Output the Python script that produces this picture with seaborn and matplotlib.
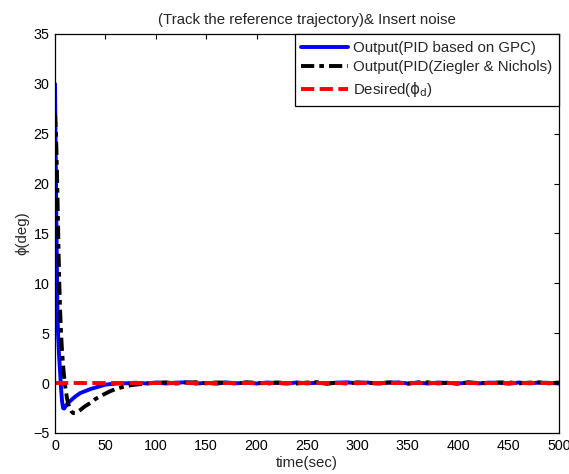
import matplotlib
matplotlib.use("Agg")
import matplotlib.pyplot as plt
import seaborn as sns
import pandas as pd

# ---------------- data ----------------
t_gpc = [0, 0.5, 1, 1.5, 2, 2.5, 3, 4, 5, 6, 7, 8, 9, 10, 12, 15, 20, 25, 30, 35,
         40, 45, 50, 55, 60, 70, 80, 90, 100, 110, 120, 130, 140, 150, 160, 170,
         180, 190, 200, 210, 220, 230, 240, 250, 260, 270, 280, 290, 300, 310,
         320, 330, 340, 350, 360, 370, 380, 390, 400, 410, 420, 430, 440, 450,
         460, 470, 480, 490, 500]
y_gpc = [30, 25, 20, 15, 10.5, 7, 5, 2.8, 1.2, -0.5, -1.8, -2.5, -2.55, -2.4, -2.1,
         -1.8, -1.35, -1.0, -0.8, -0.6, -0.45, -0.3, -0.15, -0.1, -0.05, -0.02,
         0.04, -0.03, 0.06, -0.04, 0.05, 0.08, -0.05, 0.03, -0.06, 0.07, -0.02,
         0.05, -0.04, 0.06, 0.02, -0.05, 0.07, -0.03, 0.04, -0.06, 0.05, 0.08,
         -0.02, 0.06, -0.05, 0.04, 0.07, -0.03, 0.05, -0.04, 0.06, 0.02, -0.05,
         0.07, -0.03, 0.05, 0.04, -0.06, 0.06, -0.02, 0.05, 0.03, -0.04]

t_zn = [0, 1, 2, 3, 4, 5, 6, 7, 8, 9, 10, 12, 14, 16, 18, 20, 22, 25, 30, 35, 40,
        45, 50, 55, 60, 65, 70, 75, 80, 85, 90, 100, 110, 120, 130, 140, 150, 160,
        170, 180, 190, 200, 210, 220, 230, 240, 250, 260, 270, 280, 290, 300, 310,
        320, 330, 340, 350, 360, 370, 380, 390, 400, 410, 420, 430, 440, 450, 460,
        470, 480, 490, 500]
y_zn = [27, 25, 21, 16, 11, 7.5, 5, 3.2, 1.8, 0.7, -0.2, -1.6, -2.4, -2.8, -3.0,
        -3.0, -2.9, -2.7, -2.3, -2.0, -1.6, -1.3, -1.05, -0.8, -0.6, -0.45, -0.32,
        -0.22, -0.15, -0.1, -0.05, 0.03, 0.08, -0.04, 0.06, 0.09, -0.03, 0.07,
        0.05, -0.05, 0.08, 0.04, -0.06, 0.07, 0.02, -0.04, 0.06, 0.09, -0.03,
        0.05, -0.05, 0.08, 0.03, -0.04, 0.07, 0.05, -0.06, 0.06, 0.08, -0.03,
        0.04, -0.05, 0.07, 0.02, -0.04, 0.06, 0.08, -0.03, 0.05, 0.07, -0.02, 0.06]

t_des = [0, 500]
y_des = [0, 0]

labels = ["Output(PID based on GPC)", "Output(PID(Ziegler & Nichols)",
          r"Desired($\mathrm{\phi}_\mathrm{d}$)"]
title = "(Track the reference trajectory)& Insert noise"
xlabel = "time(sec)"
ylabel = "\u03d5(deg)"
xticks = [0, 50, 100, 150, 200, 250, 300, 350, 400, 450, 500]
yticks = [-5, 0, 5, 10, 15, 20, 25, 30, 35]

# ---------------- style ----------------
sns.set_style("white")
plt.rcParams["font.family"] = ["Liberation Sans", "DejaVu Sans"]
plt.rcParams["mathtext.fontset"] = "custom"
plt.rcParams["mathtext.rm"] = "DejaVu Sans"
plt.rcParams["font.size"] = 10

fig = plt.figure(figsize=(5.69, 4.74), dpi=100)
ax = fig.add_axes([55 / 569, 1 - 433 / 474, 504 / 569, 399 / 474])

df_gpc = pd.DataFrame({"t": t_gpc, "y": y_gpc})
df_zn = pd.DataFrame({"t": t_zn, "y": y_zn})
df_des = pd.DataFrame({"t": t_des, "y": y_des})

lw = 2.8
sns.lineplot(data=df_gpc, x="t", y="y", ax=ax, color="#0000ff", linewidth=lw,
             label=labels[0], linestyle="-")
sns.lineplot(data=df_zn, x="t", y="y", ax=ax, color="black", linewidth=lw,
             label=labels[1], linestyle=(0, (3.4, 1.3, 1.2, 1.3)))
sns.lineplot(data=df_des, x="t", y="y", ax=ax, color="#ff0000", linewidth=lw,
             label=labels[2], linestyle=(0, (3.4, 1.4)))

ax.set_xlim(0, 500)
ax.set_ylim(-5, 35)
ax.set_xticks(xticks)
ax.set_yticks(yticks)
ax.tick_params(direction="in", top=True, right=True, length=3.5, width=0.8,
               labelsize=10.3, pad=4, colors="black")
for s in ax.spines.values():
    s.set_visible(True)
    s.set_color("black")
    s.set_linewidth(0.9)

ax.set_title(title, fontsize=10.8, pad=7)
ax.set_xlabel(xlabel, fontsize=10.8, labelpad=2.5)
ax.set_ylabel(ylabel, fontsize=10.8, labelpad=3)

leg = ax.legend(loc="upper right", borderaxespad=0, fancybox=False, shadow=False,
                framealpha=1, edgecolor="black", fontsize=10.8, handlelength=3.1,
                handletextpad=0.35, labelspacing=0.38, borderpad=0.45)
leg.get_frame().set_linewidth(0.9)

fig.savefig("out.png", dpi=100)
